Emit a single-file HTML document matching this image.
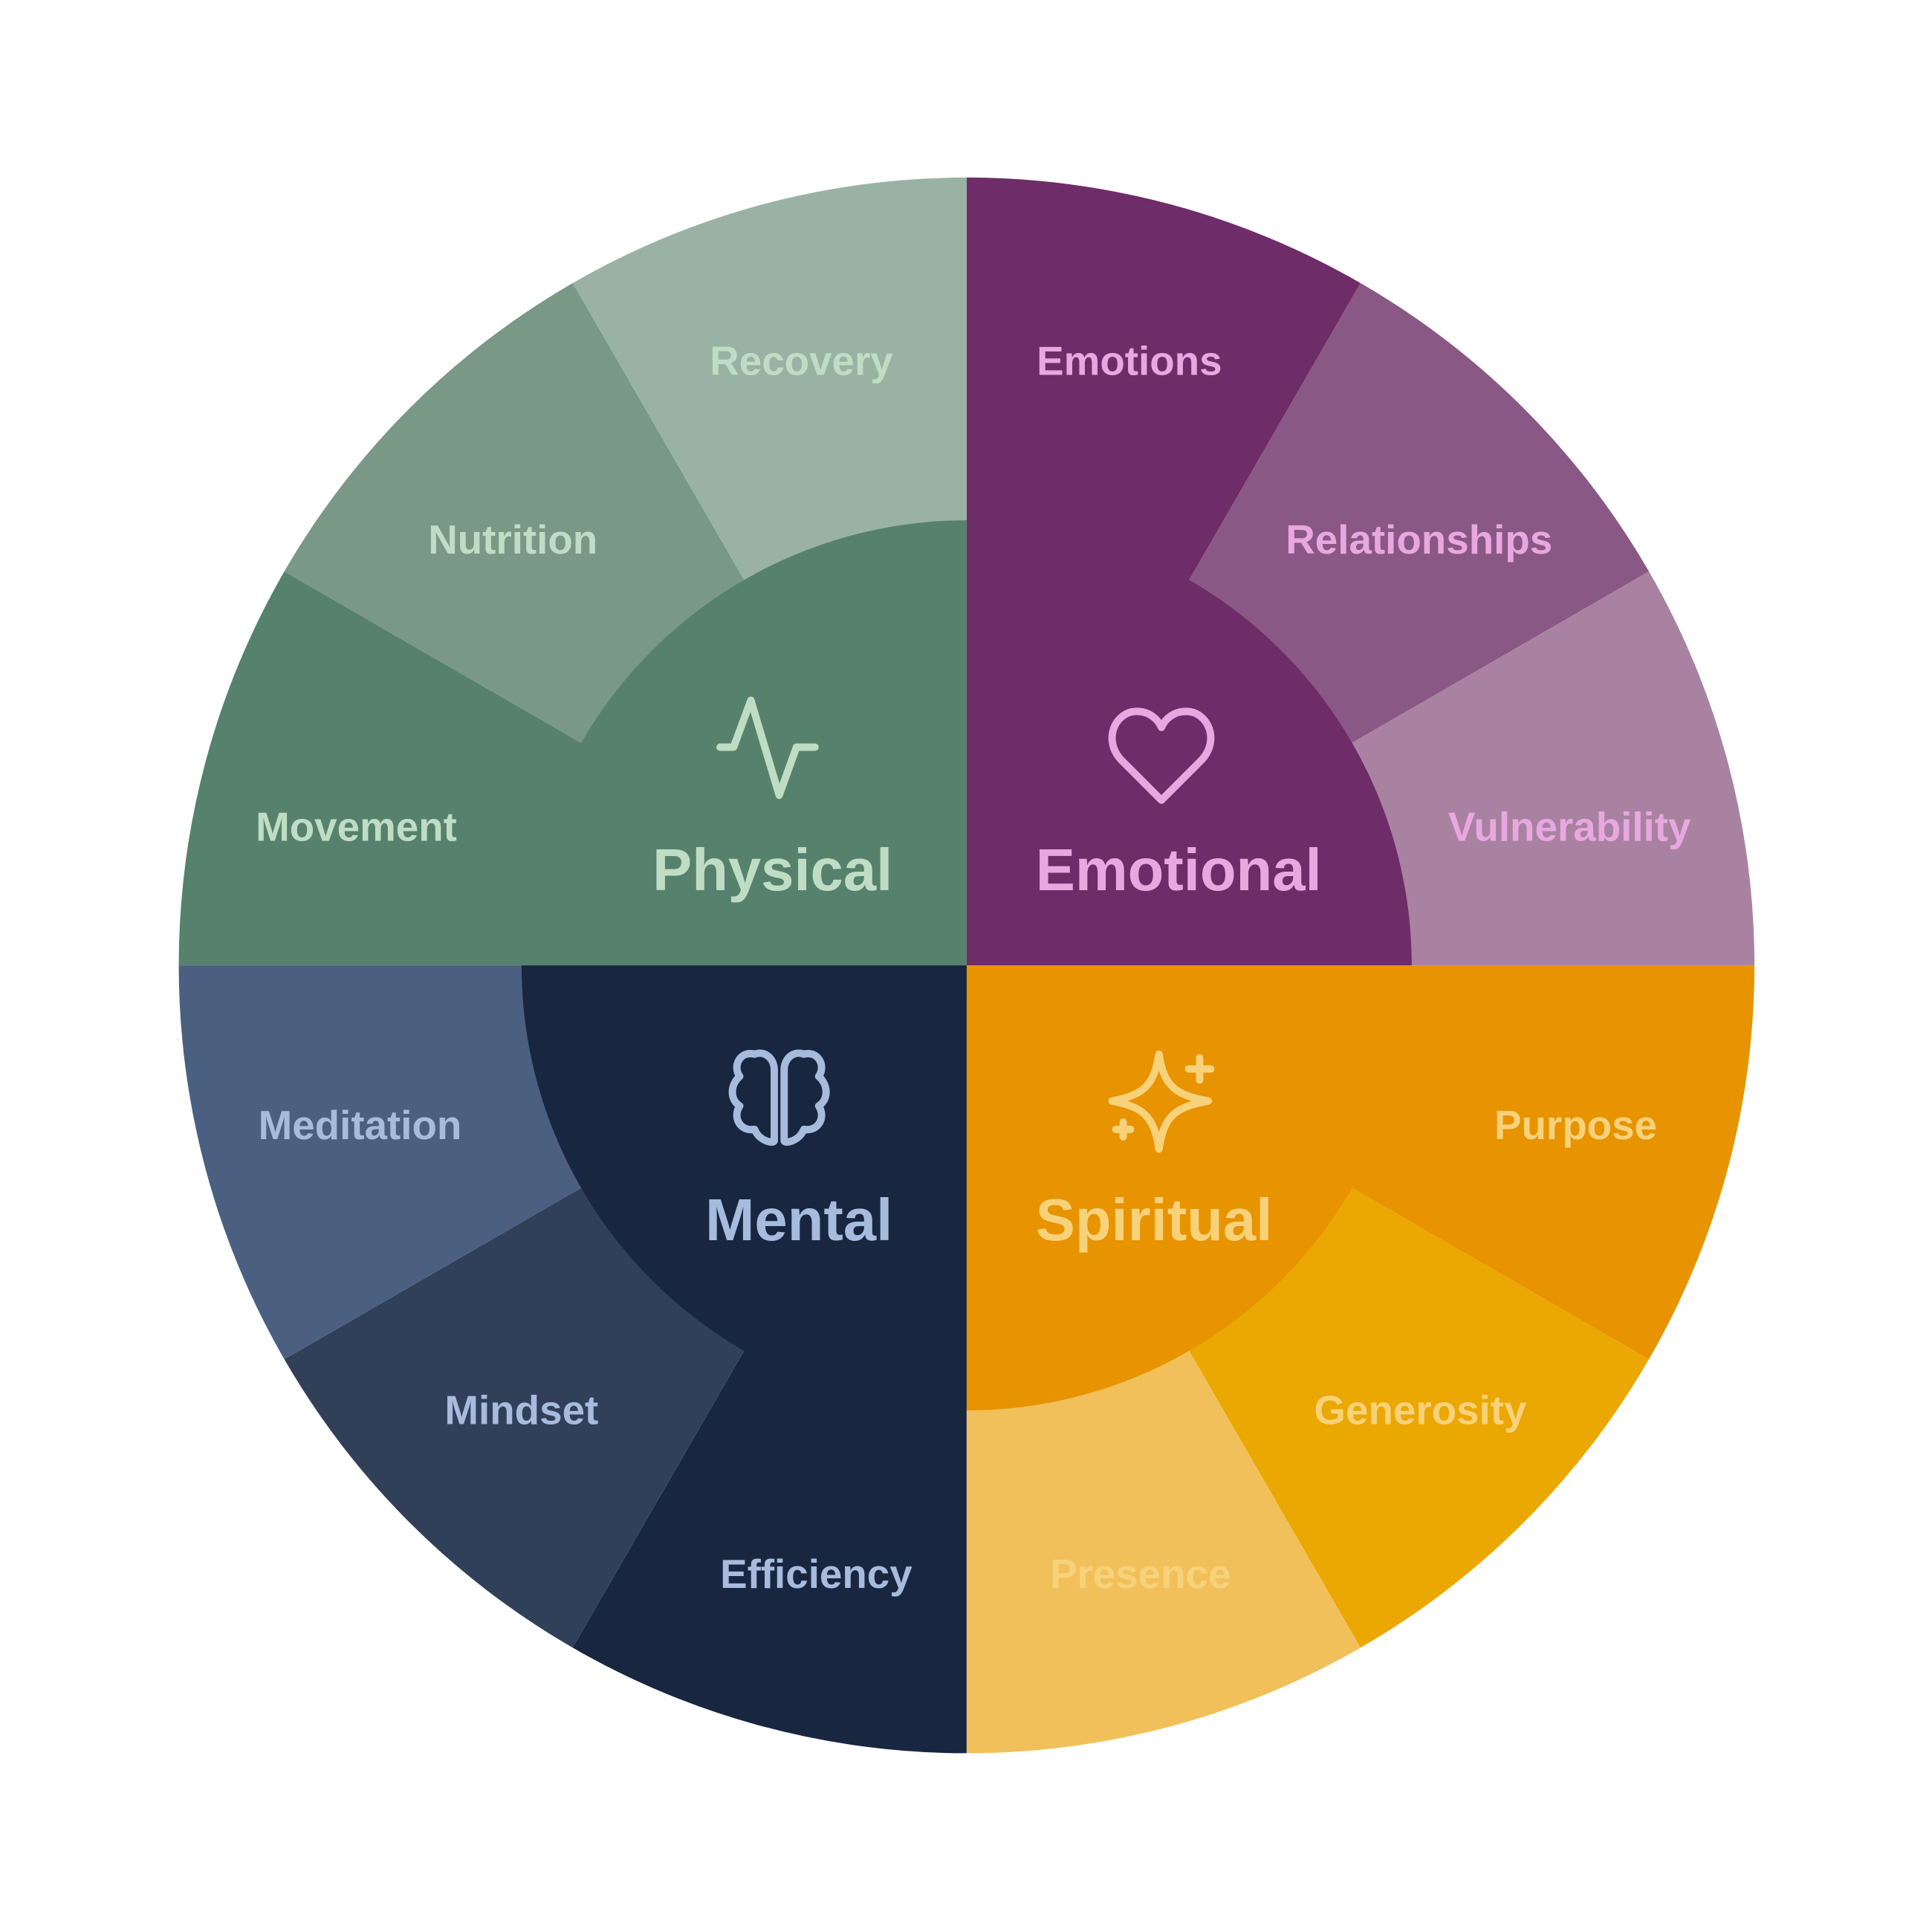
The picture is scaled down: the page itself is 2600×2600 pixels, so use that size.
<!DOCTYPE html>
<html><head><meta charset="utf-8"><style>
html,body{margin:0;padding:0;background:#fff}
svg{display:block}
text{font-family:"Liberation Sans",sans-serif;font-weight:bold}
</style></head><body>
<svg width="2600" height="2600" viewBox="0 0 1567 1567" xmlns="http://www.w3.org/2000/svg">
<rect width="1567" height="1567" fill="#fff"/>
<g transform="translate(784,783)">
<path d="M0 0 L0 -639 A639 639 0 0 1 319.5 -553.4 Z" fill="#6E2C68"/>
<path d="M0 0 L319.5 -553.4 A639 639 0 0 1 553.4 -319.5 Z" fill="#8A5884"/>
<path d="M0 0 L553.4 -319.5 A639 639 0 0 1 639 0 Z" fill="#A982A2"/>
<path d="M0 0 L639 0 A639 639 0 0 1 553.4 319.5 Z" fill="#E89300"/>
<path d="M0 0 L553.4 319.5 A639 639 0 0 1 319.5 553.4 Z" fill="#EBA702"/>
<path d="M0 0 L319.5 553.4 A639 639 0 0 1 0 639 Z" fill="#F2C05A"/>
<path d="M0 0 L0 639 A639 639 0 0 1 -319.5 553.4 Z" fill="#182640"/>
<path d="M0 0 L-319.5 553.4 A639 639 0 0 1 -553.4 319.5 Z" fill="#314059"/>
<path d="M0 0 L-553.4 319.5 A639 639 0 0 1 -639 0 Z" fill="#4B5F80"/>
<path d="M0 0 L-639 0 A639 639 0 0 1 -553.4 -319.5 Z" fill="#56826D"/>
<path d="M0 0 L-553.4 -319.5 A639 639 0 0 1 -319.5 -553.4 Z" fill="#7A9886"/>
<path d="M0 0 L-319.5 -553.4 A639 639 0 0 1 0 -639 Z" fill="#9AB2A4"/>
<path d="M0 0 L0 -361 A361 361 0 0 1 361 0 Z" fill="#6E2C68"/>
<path d="M0 0 L361 0 A361 361 0 0 1 0 361 Z" fill="#E89300"/>
<path d="M0 0 L0 361 A361 361 0 0 1 -361 0 Z" fill="#182640"/>
<path d="M0 0 L-361 0 A361 361 0 0 1 0 -361 Z" fill="#56826D"/>
</g>
<g font-size="33" text-anchor="middle">
<text x="650" y="304" fill="#BFDDC4">Recovery</text>
<text x="416" y="449" fill="#BFDDC4">Nutrition</text>
<text x="289" y="682" fill="#BFDDC4">Movement</text>
<text x="916" y="304" fill="#E8A8DF">Emotions</text>
<text x="1151" y="449" fill="#E8A8DF">Relationships</text>
<text x="1273" y="682" fill="#E8A8DF">Vulnerability</text>
<text x="292" y="924" fill="#A7BBDD">Meditation</text>
<text x="423" y="1155" fill="#A7BBDD">Mindset</text>
<text x="662" y="1288" fill="#A7BBDD">Efficiency</text>
<text x="1278" y="924" fill="#F7D27A">Purpose</text>
<text x="1152" y="1155" fill="#F7D27A">Generosity</text>
<text x="925" y="1288" fill="#F7D27A">Presence</text>
</g>
<g font-size="48">
<text x="724" y="722" text-anchor="end" fill="#BFDDC4">Physical</text>
<text x="840" y="722" fill="#E8A8DF">Emotional</text>
<text x="724" y="1006" text-anchor="end" fill="#A7BBDD">Mental</text>
<text x="840" y="1006" fill="#F7D27A">Spiritual</text>
</g>
<g fill="none" stroke-width="6" stroke-linecap="round" stroke-linejoin="round">
<path d="M584 606 L595 606 L609 568 L632 645 L646 606 L661 606" stroke="#BFDDC4"/>
<path d="M942 649 L910 617 C894 601 904 577 922 577 C932 577 939 583 942 590 C945 583 952 577 962 577 C980 577 990 601 974 617 Z" stroke="#E8A8DF"/>
<g stroke="#A7BBDD">
<path d="M628 925 L628 868 C628 858 620 852 612 855 C600 852 594 865 600 873 C592 880 592 892 600 897 C594 906 600 918 612 916 C616 926 628 928 628 925"/>
<path d="M636 925 L636 868 C636 858 644 852 652 855 C664 852 670 865 664 873 C672 880 672 892 664 897 C670 906 664 918 652 916 C648 926 636 928 636 925"/>
</g>
<g stroke="#F7D27A">
<path d="M940 855 C944 880 952 888 980 893 C952 898 944 906 940 932 C936 906 928 898 902 893 C928 888 936 880 940 855 Z"/>
<path d="M973 858 L973 876 M964 867 L982 867 M911 910 L911 922 M905 916 L917 916"/>
</g>
</g>
</svg>
</body></html>
